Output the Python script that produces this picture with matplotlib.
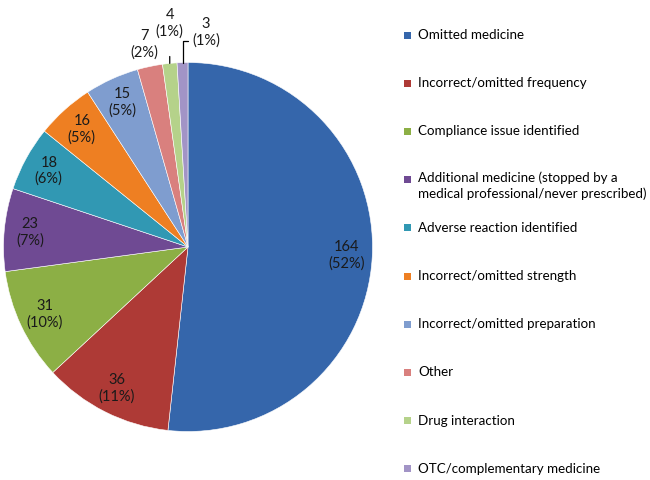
import matplotlib
matplotlib.use("Agg")
import matplotlib.pyplot as plt
from matplotlib.patches import Rectangle
import numpy as np

plt.rcParams['font.family'] = ['Lato', 'DejaVu Sans']

categories = ["Omitted medicine",
              "Incorrect/omitted frequency",
              "Compliance issue identified",
              "Additional medicine (stopped by a\nmedical professional/never prescribed)",
              "Adverse reaction identified",
              "Incorrect/omitted strength",
              "Incorrect/omitted preparation",
              "Other",
              "Drug interaction",
              "OTC/complementary medicine"]
counts = [164, 36, 31, 23, 18, 16, 15, 7, 4, 3]
colors = ["#3566AB", "#AE3A36", "#8CAF45", "#6F4A93", "#3198B3",
          "#EE7F22", "#7F9DCF", "#D9807E", "#B5D28A", "#A294C6"]

W, H = 650, 480
fig = plt.figure(figsize=(6.5, 4.8), dpi=100)

# pie axes: centre (188, 247) px, radius 184.5 px
cx, cy, r = 188, 247, 184.5
ax = fig.add_axes([(cx - r) / W, (H - cy - r) / H, 2 * r / W, 2 * r / H])
wedges, _ = ax.pie(counts, colors=colors, startangle=90, counterclock=False,
                   radius=1, wedgeprops=dict(edgecolor="white", linewidth=0.4))
ax.set_xlim(-1, 1)
ax.set_ylim(-1, 1)
ax.set_aspect("equal")
ax.axis("off")

total = sum(counts)
txtcol = "#1a1a1a"
fs = 10.5
for i, (w, v) in enumerate(zip(wedges, counts)):
    pct = round(v / total * 100)
    lab = f"{v}\n({pct}%)"
    ang = np.deg2rad((w.theta1 + w.theta2) / 2)
    ex, ey = np.cos(ang), np.sin(ang)
    if v >= 10:
        d = 0.86
        ax.text(d * ex, d * ey, lab, ha="center", va="center", fontsize=fs,
                color=txtcol, linespacing=1.2)
    elif v == 7:
        ax.annotate(lab, (ex, ey), xytext=(-4, 16), textcoords="offset points",
                    ha="center", va="center", fontsize=fs, color=txtcol,
                    linespacing=1.2)
    elif v == 4:
        ax.annotate(lab, (ex, ey), xytext=(0, 29), textcoords="offset points",
                    ha="center", va="center", fontsize=fs, color=txtcol,
                    linespacing=1.2,
                    arrowprops=dict(arrowstyle="-", color="black", lw=0.9,
                                    shrinkA=11, shrinkB=0))
    else:
        ax.annotate(lab, (ex, ey), xytext=(17, 22), textcoords="offset points",
                    ha="center", va="center", fontsize=fs, color=txtcol,
                    linespacing=1.2,
                    arrowprops=dict(arrowstyle="-", color="black", lw=0.9,
                                    connectionstyle="angle,angleA=0,angleB=90,rad=0",
                                    shrinkA=1, shrinkB=0, relpos=(0, 0.22)))

# legend
for i, (lab, col) in enumerate(zip(categories, colors)):
    y = 35 + 48.2 * i
    fig.patches.append(Rectangle((404 / W, 1 - (y + 3.5) / H), 7 / W, 7 / H,
                                 transform=fig.transFigure, facecolor=col,
                                 edgecolor="none"))
    if "\n" in lab:
        fig.text(418 / W, 1 - (y - 8) / H, lab, ha="left", va="top",
                 fontsize=9.6, color="black", linespacing=1.3)
    else:
        fig.text(418 / W, 1 - y / H, lab, ha="left", va="center",
                 fontsize=9.6, color="black")

fig.savefig("out.png", dpi=100, facecolor="white")
